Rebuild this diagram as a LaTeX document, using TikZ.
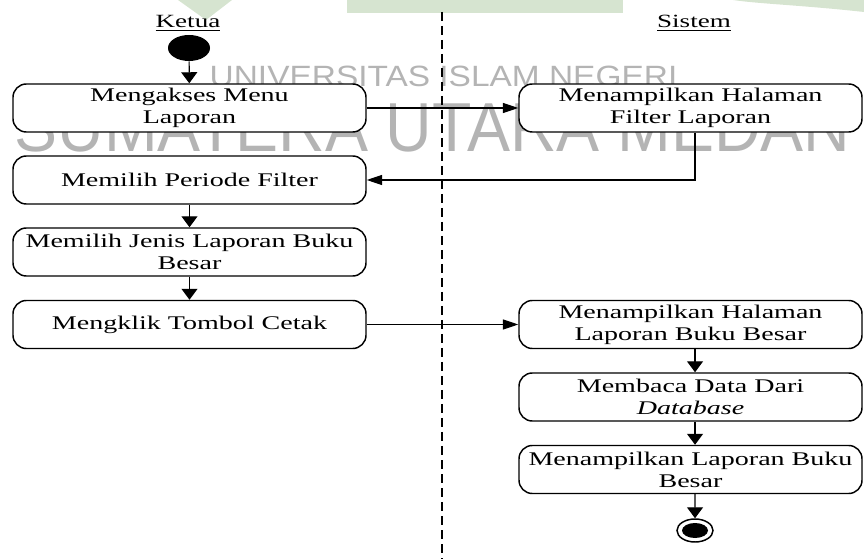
\documentclass[tikz,border=0pt]{standalone}
\usepackage{fontspec}
\setmainfont{Liberation Serif}[FakeStretch=1.45]
\newfontfamily\wmfonta{Liberation Sans}[FakeStretch=1.14]
\newfontfamily\wmfontb{Liberation Sans}[FakeStretch=0.93]
\usetikzlibrary{arrows.meta,shapes.geometric}

\definecolor{wmgreen}{RGB}{214,228,208}
\definecolor{wmgray}{RGB}{180,180,180}

\tikzset{every picture/.style={line width=0.75pt}}
\tikzset{
  actbox/.style={draw, line width=1.1pt, rounded corners=10pt, fill=white,
    align=center, inner sep=0pt, minimum height=36pt,
    font=\fontsize{14.5}{16.5}\selectfont},
  leftbox/.style={actbox, minimum width=264.75pt},
  rightbox/.style={actbox, minimum width=257.25pt},
  vflow/.style={-{Triangle[length=8.25pt,width=12pt]}, line width=0.9pt},
  hflow/.style={-{Triangle[length=11.5pt,width=7.5pt]}, line width=0.9pt},
  lanelabel/.style={anchor=base, inner sep=0pt, font=\fontsize{14}{16}\selectfont},
  watermark/.style={anchor=base, inner sep=0pt, text=wmgray},
}

\begin{document}
\begin{tikzpicture}[x=0.75pt,y=0.75pt,yscale=-1,xscale=1]
\useasboundingbox (0,0) rectangle (864,559);

%Shapes: watermark logo
\fill [wmgreen] (178,0) -- (232,0) -- (206,20) -- cycle ;
\fill [wmgreen] (347,0) rectangle (623,13) ;
\fill [wmgreen] (733,0) .. controls (760,4) and (800,5) .. (864,12) -- (864,0) -- cycle ;

% Text Node
\node [watermark, font=\wmfonta\fontsize{22}{22}\selectfont] (wmtop) at (443.5,87) {UNIVERSITAS ISLAM NEGERI};
% Text Node
\node [watermark, font=\wmfontb\fontsize{52}{52}\selectfont] (wmbot) at (432.5,152) {SUMATERA UTARA MEDAN};

%Straight Lines: swimlane divider
\coordinate (laneTop) at (442,12);
\coordinate (laneBot) at (442,559);
\draw [line width=1.5pt, dash pattern={on 6.75pt off 3.75pt}] (laneTop) -- (laneBot) ;

% Text Node
\node [lanelabel] (ketua) at (188,28) {\underline{Ketua}};
% Text Node
\node [lanelabel] (sistem) at (694,28) {\underline{Sistem}};

%Shape: start
\node [ellipse, fill=black, inner sep=0pt, minimum width=31.5pt, minimum height=19.5pt] (start) at (189,48) {};

%Shapes: activities
\node [leftbox] (akses) at (189.5,108) {Mengakses Menu\\Laporan};
\node [rightbox] (hlmfilter) at (690.5,108) {Menampilkan Halaman\\Filter Laporan};
\node [leftbox] (periode) at (189.5,180) {Memilih Periode Filter};
\node [leftbox] (jenis) at (189.5,252) {Memilih Jenis Laporan Buku\\Besar};
\node [leftbox] (cetak) at (189.5,324.5) {Mengklik Tombol Cetak};
\node [rightbox] (hlmlap) at (690.5,324.5) {Menampilkan Halaman\\Laporan Buku Besar};
\node [rightbox] (baca) at (690.5,397) {Membaca Data Dari\\\textit{Database}};
\node [rightbox] (tampil) at (690.5,469.5) {Menampilkan Laporan Buku\\Besar};

%Shape: end
\node [ellipse, draw, line width=1.1pt, inner sep=0pt, minimum width=27pt, minimum height=17.25pt] (end) at (695,530.5) {};
\node [ellipse, fill=black, inner sep=0pt, minimum width=19.5pt, minimum height=11.25pt] (endin) at (695,530.5) {};

%Straight Lines: flows
\draw [vflow] (start) -- (akses) ;
\draw [hflow] (akses) -- (hlmfilter) ;
\draw [hflow] ([xshift=3.4pt]hlmfilter.south) |- (periode.east) ;
\draw [vflow] (periode) -- (jenis) ;
\draw [vflow] (jenis) -- (cetak) ;
\draw [hflow] (cetak) -- (hlmlap) ;
\draw [vflow] ([xshift=3.4pt]hlmlap.south) -- ([xshift=3.4pt]baca.north) ;
\draw [vflow] ([xshift=3.4pt]baca.south) -- ([xshift=3.4pt]tampil.north) ;
\draw [vflow] ([xshift=3.4pt]tampil.south) -- (end) ;

\end{tikzpicture}
\end{document}
